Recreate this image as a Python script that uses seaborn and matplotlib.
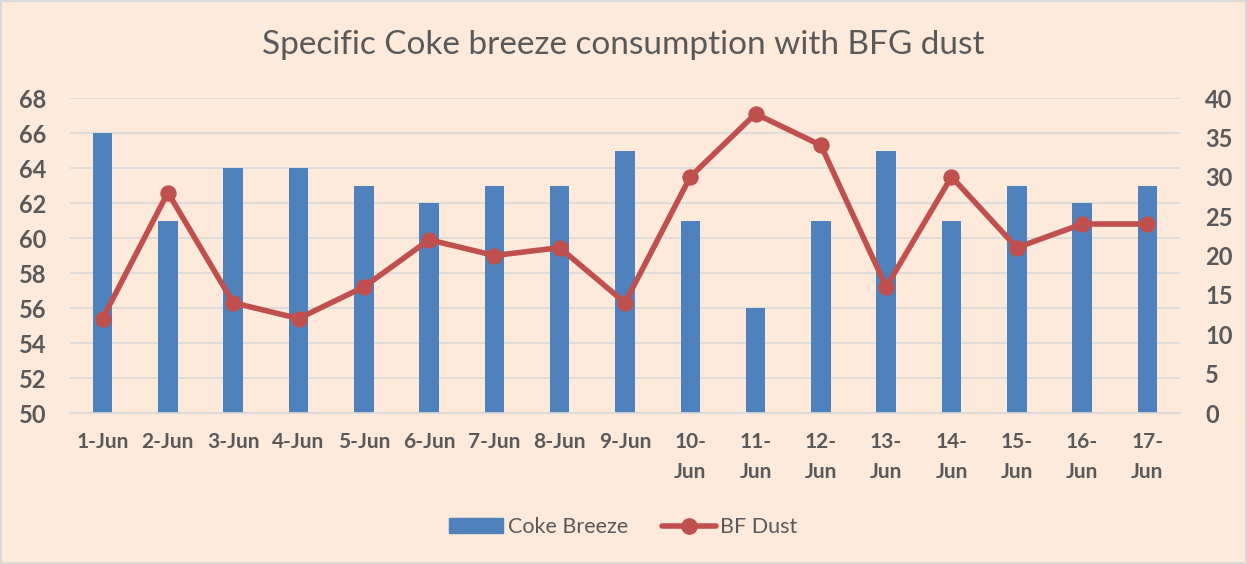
import numpy as np
import pandas as pd
import matplotlib
matplotlib.use("Agg")
import matplotlib.pyplot as plt
import seaborn as sns
from matplotlib.lines import Line2D
from matplotlib.patches import Patch, Rectangle

dates = ["1-Jun", "2-Jun", "3-Jun", "4-Jun", "5-Jun", "6-Jun", "7-Jun", "8-Jun", "9-Jun",
         "10-\nJun", "11-\nJun", "12-\nJun", "13-\nJun", "14-\nJun", "15-\nJun", "16-\nJun", "17-\nJun"]
coke_breeze = [66, 61, 64, 64, 63, 62, 63, 63, 65, 61, 56, 61, 65, 61, 63, 62, 63]
bf_dust = [12, 28, 14, 12, 16, 22, 20, 21, 14, 30, 38, 34, 16, 30, 21, 24, 24]

BG = "#FDEADA"
BLUE = "#4F81BD"
RED = "#C0504D"
TXT = "#595959"

sns.set_theme(style="white")
plt.rcParams["font.family"] = ["Lato", "DejaVu Sans"]

fig = plt.figure(figsize=(12.47, 5.64), dpi=100, facecolor=BG)
ax = fig.add_axes([0.0561, 0.2677, 0.8902, 0.5585])
ax.set_facecolor(BG)

df = pd.DataFrame({"date": dates, "coke": coke_breeze, "dust": bf_dust, "pos": np.arange(len(dates))})

sns.barplot(data=df, x="date", y="coke", color=BLUE, width=0.3, saturation=1, ax=ax,
            linewidth=0, edgecolor=BLUE, zorder=2)
ax.set_ylim(50, 68)
ax.set_yticks(np.arange(50, 69, 2))
ax.set_xlim(-0.5, len(dates) - 0.5)
ax.grid(axis="y", color="#D9D9D9", linewidth=1.2, zorder=0)
ax.set_axisbelow(True)
ax.set_xlabel("")
ax.set_ylabel("")
for s in ["top", "right", "left"]:
    ax.spines[s].set_visible(False)
ax.spines["bottom"].set_color("#D9D9D9")
ax.spines["bottom"].set_linewidth(1.2)
ax.tick_params(axis="x", length=0, pad=14, labelsize=15, labelcolor=TXT)
ax.tick_params(axis="y", length=0, pad=17, labelsize=17, labelcolor=TXT)
ax.set_xticks(np.arange(-0.5, len(dates), 1), minor=True)
ax.tick_params(axis="x", which="minor", length=6, color="#D9D9D9", width=1.2, direction="out")
for lbl in ax.get_xticklabels():
    lbl.set_fontweight("bold")
    lbl.set_linespacing(1.6)
    lbl.set_va("top")
for lbl in ax.get_yticklabels():
    lbl.set_fontweight("bold")

ax2 = ax.twinx()
sns.lineplot(data=df, x="pos", y="dust", color=RED, linewidth=4, marker="o", markersize=11,
             markeredgecolor=RED, ax=ax2, zorder=3)
ax2.set_ylim(0, 40)
ax2.set_yticks(np.arange(0, 41, 5))
ax2.set_xlim(-0.5, len(dates) - 0.5)
ax2.set_ylabel("")
ax2.set_xlabel("")
for s in ["top", "right", "left", "bottom"]:
    ax2.spines[s].set_visible(False)
ax2.tick_params(axis="y", length=0, pad=18, labelsize=17, labelcolor=TXT)
for lbl in ax2.get_yticklabels():
    lbl.set_fontweight("bold")

fig.text(0.5, 0.92, "Specific Coke breeze consumption with BFG dust", ha="center", va="center",
         fontsize=24, color=TXT)

handles = [Patch(facecolor=BLUE, edgecolor=BLUE),
           Line2D([0], [0], color=RED, linewidth=4, marker="o", markersize=11)]
fig.legend(handles, ["Coke Breeze", "BF Dust"], loc="center", bbox_to_anchor=(0.5, 0.065), ncol=2,
           frameon=False, fontsize=15.5, labelcolor=TXT, handlelength=2.5, handletextpad=0.2,
           columnspacing=1.6)

fig.patches.append(Rectangle((0.001, 0.001), 0.998, 0.998, transform=fig.transFigure,
                             fill=False, edgecolor="#D9D9D9", linewidth=1.5))

fig.savefig("out.png", dpi=100, facecolor=BG)
